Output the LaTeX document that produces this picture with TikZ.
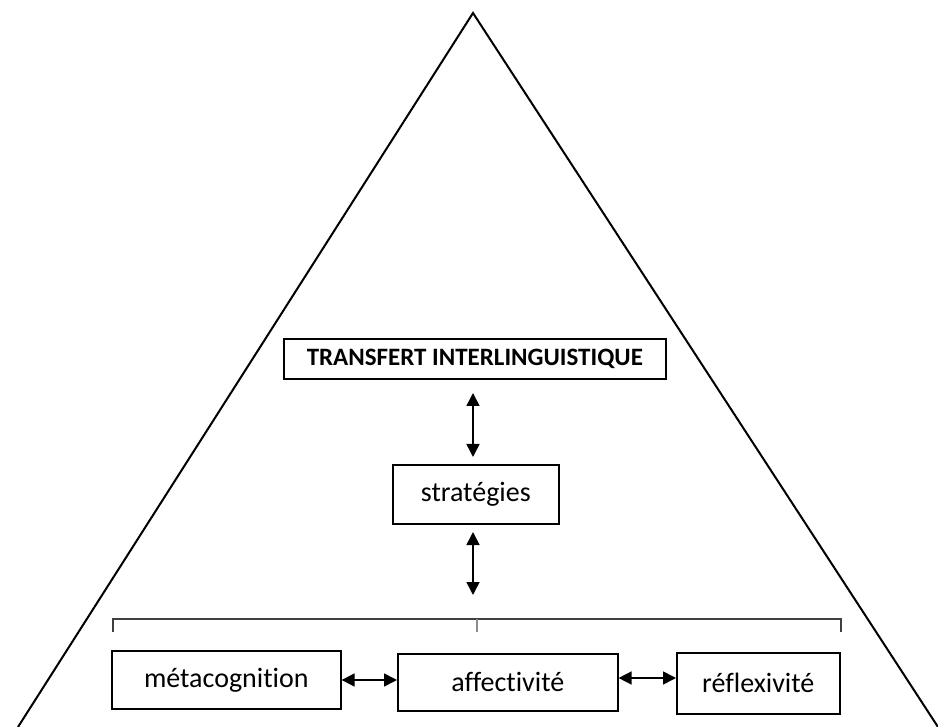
\documentclass[tikz,border=0pt]{standalone}
\usepackage{fontspec}
\setmainfont{Carlito}[Ligatures={NoCommon}]
\usetikzlibrary{arrows.meta}
\begin{document}
\begin{tikzpicture}[x=1pt,y=-1pt,
  box/.style={draw,line width=1.6pt,inner sep=0pt,anchor=north west},
  lbl/.style={font=\fontsize{28}{32}\selectfont},
  dbl/.style={line width=1.6pt,{Triangle[length=13pt,width=13pt]}-{Triangle[length=13pt,width=13pt]}},
  brk/.style={line width=1.4pt,draw=black!75}]
\useasboundingbox (0,0) rectangle (938,727);
\coordinate (apex) at (473,13);
\coordinate (bl) at (18,727);
\coordinate (br) at (938,727);
\draw[line width=2pt,line join=miter] (bl) -- (apex) -- (br);
\node[box,minimum width=382pt,minimum height=40pt,font=\bfseries\fontsize{25}{28}\selectfont] (tr) at (283,338) {TRANSFERT INTERLINGUISTIQUE};
\node[box,lbl,minimum width=166pt,minimum height=59pt] (st) at (392,464) {stratégies};
\node[box,lbl,minimum width=229pt,minimum height=58pt] (me) at (111,650) {métacognition};
\node[box,lbl,minimum width=220pt,minimum height=57pt] (af) at (397,653) {affectivité};
\node[box,lbl,minimum width=163pt,minimum height=61pt] (re) at (676,652) {réflexivité};
\coordinate (a1) at (473,393);
\coordinate (a2) at (473,457);
\coordinate (a3) at (473,532);
\coordinate (a4) at (473,595);
\draw[dbl] (a1) -- (a2);
\draw[dbl] (a3) -- (a4);
\coordinate (bL) at (113,632);
\coordinate (bLt) at (113,619);
\coordinate (bRt) at (841,619);
\coordinate (bR) at (841,632);
\coordinate (bM) at (477,619);
\coordinate (bMb) at (477,632);
\draw[brk] (bL) -- (bLt) -- (bRt) -- (bR);
\draw[brk,draw=black!45] (bM) -- (bMb);
\draw[dbl] (me.east |- 0,680) -- (af.west |- 0,680);
\draw[dbl] (af.east |- 0,678) -- (re.west |- 0,678);
\end{tikzpicture}
\end{document}
